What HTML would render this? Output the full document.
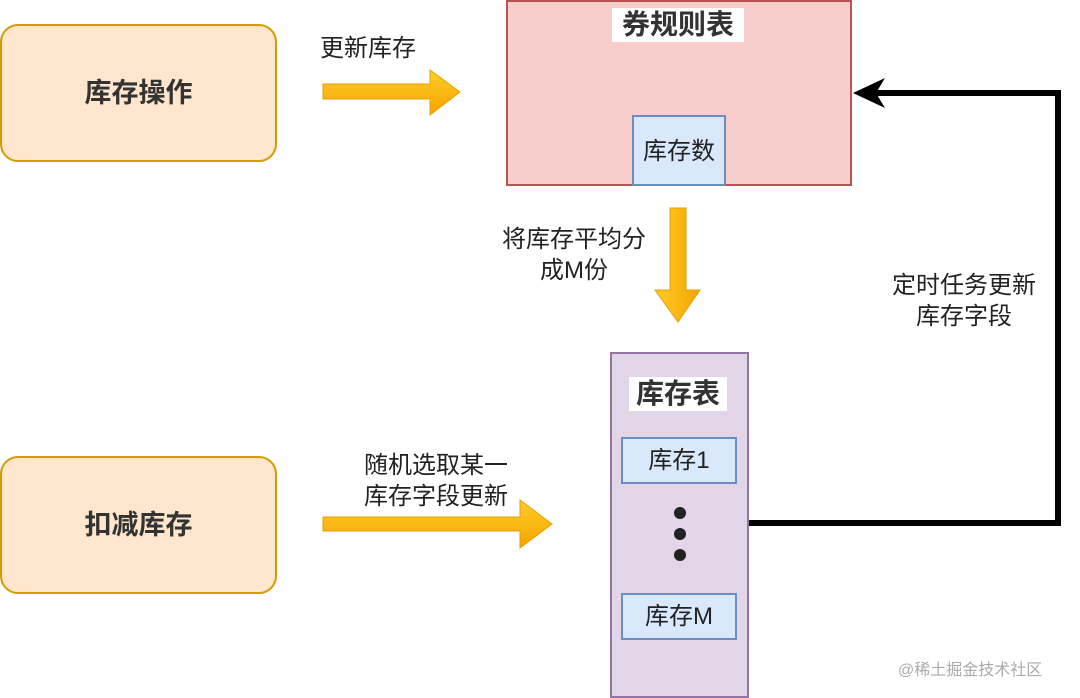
<!DOCTYPE html>
<html><head><meta charset="utf-8"><style>
body{margin:0;width:1080px;height:698px;background:#fff;position:relative;overflow:hidden;font-family:"Liberation Sans","Noto Sans CJK SC",sans-serif;color:#222}
.a{position:absolute;box-sizing:border-box}
.t{position:absolute;font-size:24px;line-height:31px;text-align:center;white-space:nowrap;color:#222}
.b{font-weight:bold;color:#333}
</style></head><body>
<div class="a" style="left:0;top:24px;width:277px;height:138px;background:#ffe6cc;border:2px solid #d79b00;border-radius:18px"></div>
<div class="t b" style="left:0;top:78px;width:277px;font-size:27px">库存操作</div>
<div class="a" style="left:0;top:456px;width:277px;height:138px;background:#ffe6cc;border:2px solid #d79b00;border-radius:18px"></div>
<div class="t b" style="left:0;top:510px;width:277px;font-size:27px">扣减库存</div>

<div class="a" style="left:506px;top:0;width:346px;height:186px;background:#f8cecc;border:2px solid #b85450"></div>
<div class="t b" style="left:612px;top:8px;width:132px;background:#fff;font-size:28px;line-height:34px">券规则表</div>
<div class="a" style="left:632px;top:115px;width:94px;height:71px;background:#dae8fc;border:2px solid #6c8ebf"></div>
<div class="t" style="left:632px;top:136px;width:94px">库存数</div>

<div class="a" style="left:610px;top:352px;width:139px;height:346px;background:#e1d5e7;border:2px solid #9673a6"></div>
<div class="t b" style="left:629px;top:377px;width:98px;background:#fff;font-size:28px;line-height:34px">库存表</div>
<div class="a" style="left:621px;top:437px;width:116px;height:47px;background:#dae8fc;border:2px solid #6c8ebf"></div>
<div class="t" style="left:621px;top:445px;width:116px">库存1</div>
<div class="a" style="left:621px;top:593px;width:116px;height:47px;background:#dae8fc;border:2px solid #6c8ebf"></div>
<div class="t" style="left:621px;top:601px;width:116px">库存M</div>

<svg class="a" style="left:0;top:0" width="1080" height="698">
<defs><linearGradient id="g" x1="0" y1="0" x2="0" y2="1"><stop offset="0" stop-color="#ffcd28"/><stop offset="1" stop-color="#f5a300"/></linearGradient>
<linearGradient id="h" x1="0" y1="0" x2="1" y2="0"><stop offset="0" stop-color="#ffcd28"/><stop offset="1" stop-color="#f5a300"/></linearGradient></defs>
<polygon points="323,84 430,84 430,70 460,92 430,115 430,99 323,99" fill="url(#g)" stroke="#e6a000"/>
<polygon points="323,517 520,517 520,500 552,524 520,548 520,531 323,531" fill="url(#g)" stroke="#e6a000"/>
<polygon points="670,208 686,208 686,290 700,290 678,322 655,290 670,290" fill="url(#h)" stroke="#e6a000"/>
<circle cx="680" cy="513" r="6" fill="#222"/><circle cx="680" cy="534" r="6" fill="#222"/><circle cx="680" cy="555" r="6" fill="#222"/>
<polyline points="749,523 1058,523 1058,93 875,93" fill="none" stroke="#000" stroke-width="6"/>
<polygon points="853,93 885,78 876,93 885,108" fill="#000"/>
</svg>

<div class="t" style="left:320px;top:33px">更新库存</div>
<div class="t" style="left:488px;top:224px;width:172px">将库存平均分<br>成M份</div>
<div class="t" style="left:878px;top:270px;width:172px">定时任务更新<br>库存字段</div>
<div class="t" style="left:350px;top:450px;width:172px">随机选取某一<br>库存字段更新</div>
<div class="t" style="left:898px;top:655px;font-size:16px;color:#aaa">@稀土掘金技术社区</div>
</body></html>
